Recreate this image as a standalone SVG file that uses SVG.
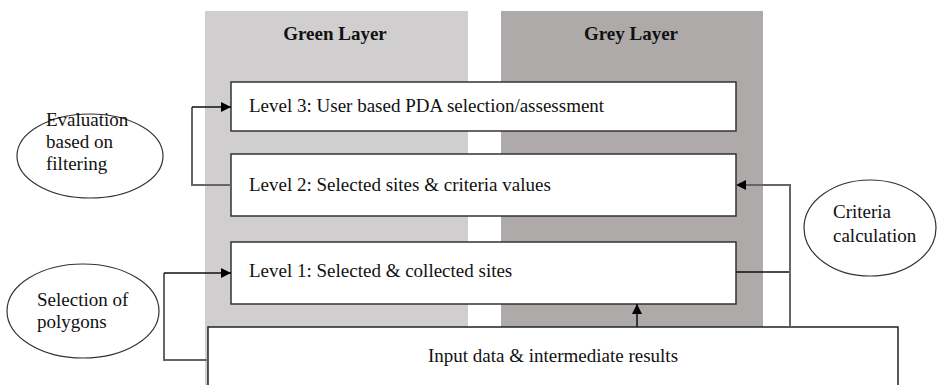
<svg xmlns="http://www.w3.org/2000/svg" width="940" height="385" viewBox="0 0 940 385">
<style>
.t{font-family:'Liberation Serif',Tinos,'DejaVu Serif',serif;font-size:19px;fill:#111}
.h{font-family:'Liberation Serif',Tinos,'DejaVu Serif',serif;font-size:19px;font-weight:bold;fill:#111}
.box{fill:#fff;stroke:#333;stroke-width:1.5}
.ell{fill:#fff;stroke:#333;stroke-width:1.2}
.c{fill:none;stroke:#666;stroke-width:2}
.k{fill:none;stroke:#111;stroke-width:1.5}
</style>
<defs>
<marker id="ah" viewBox="0 0 10 10" refX="10" refY="5" markerWidth="10" markerHeight="10" markerUnits="userSpaceOnUse" orient="auto">
<path d="M0,0 L10,5 L0,10 z" fill="#000"/>
</marker>
</defs>
<rect width="940" height="385" fill="#fff"/>
<g id="green-layer">
<rect x="205" y="11" width="263" height="374" fill="#d0cece"/>
<text class="h" x="335" y="40" text-anchor="middle">Green Layer</text>
</g>
<g id="grey-layer">
<rect x="501" y="11" width="262" height="374" fill="#aeaaaa"/>
<text class="h" x="631" y="40" text-anchor="middle">Grey Layer</text>
</g>
<g id="level3">
<rect class="box" x="231" y="82" width="505" height="49"/>
<text class="t" x="249" y="112">Level 3: User based PDA selection/assessment</text>
</g>
<g id="level2">
<rect class="box" x="231" y="154" width="505" height="62"/>
<text class="t" x="249" y="191">Level 2: Selected sites &amp; criteria values</text>
</g>
<g id="level1">
<rect class="box" x="231" y="242" width="505" height="62"/>
<text class="t" x="249" y="277">Level 1: Selected &amp; collected sites</text>
</g>
<g id="input">
<path d="M208,386 V327 H898 V386" fill="#fff" stroke="#222" stroke-width="1.5"/>
<text class="t" x="553" y="362" text-anchor="middle">Input data &amp; intermediate results</text>
</g>
<g id="evaluation">
<ellipse class="ell" cx="90" cy="156" rx="73" ry="42"/>
<text class="t"><tspan x="46" y="126">Evaluation</tspan><tspan x="46" y="148">based on</tspan><tspan x="46" y="170">filtering</tspan></text>
</g>
<g id="selection">
<ellipse class="ell" cx="83" cy="311" rx="76" ry="47"/>
<text class="t"><tspan x="37" y="306">Selection of</tspan><tspan x="37" y="328">polygons</tspan></text>
</g>
<g id="criteria">
<ellipse class="ell" cx="870" cy="228" rx="66" ry="48"/>
<text class="t"><tspan x="833" y="218">Criteria</tspan><tspan x="833" y="242">calculation</tspan></text>
</g>
<g id="connectors">
<path class="c" d="M231,185 H192 V107"/>
<path class="k" d="M192,107 H231" marker-end="url(#ah)"/>
<path class="c" d="M208,360 H164 V273"/>
<path class="k" d="M164,273 H231" marker-end="url(#ah)"/>
<path class="k" d="M736,272 H790"/>
<path class="c" d="M790,327 V185 H736" marker-end="url(#ah)"/>
<path class="k" d="M637,327 V304" marker-end="url(#ah)"/>
</g>
</svg>
